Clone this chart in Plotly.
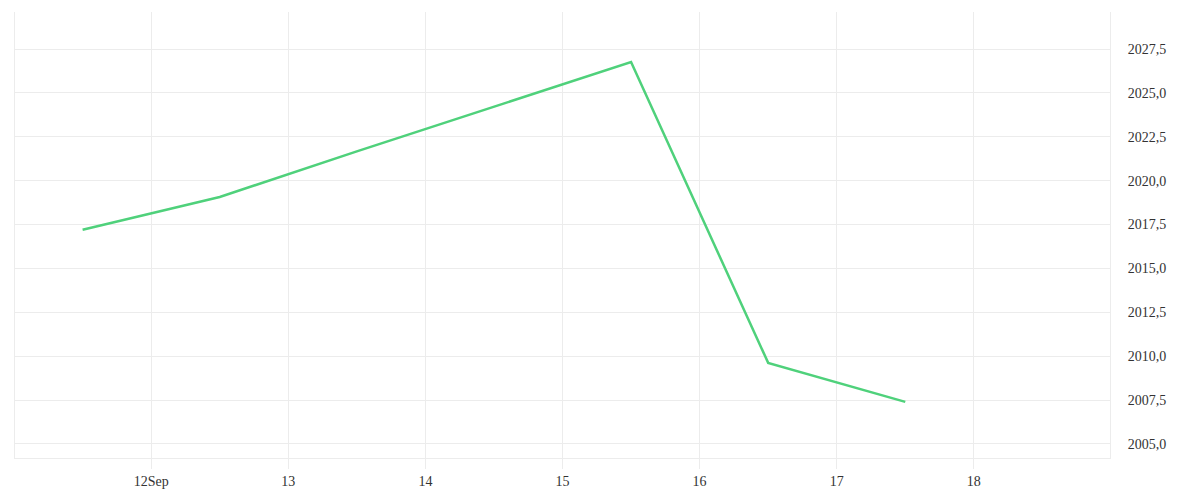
import plotly.graph_objects as go

dates = ["2023-09-11 12:00", "2023-09-12 12:00", "2023-09-13 12:00", "2023-09-14 12:00",
         "2023-09-15 12:00", "2023-09-16 12:00", "2023-09-17 12:00"]
values = [2017.2, 2019.07, 2021.67, 2024.22, 2026.76, 2009.62, 2007.4]
tick_dates = ["2023-09-12", "2023-09-13", "2023-09-14", "2023-09-15",
              "2023-09-16", "2023-09-17", "2023-09-18"]
tick_labels = ["12Sep", "13", "14", "15", "16", "17", "18"]

grid = "#ececec"
fig = go.Figure(go.Scatter(x=dates, y=values, mode="lines",
                           line=dict(color="#4fd17b", width=2.5)))
fig.update_layout(
    width=1200, height=500,
    margin=dict(l=7, r=98, t=4, b=50),
    paper_bgcolor="white", plot_bgcolor="white",
    separators=",.",
    showlegend=False,
    font=dict(family="Liberation Serif", size=14, color="#333"),
    xaxis=dict(range=["2023-09-11 00:10", "2023-09-18 23:50"],
               tickvals=tick_dates, ticktext=tick_labels,
               showgrid=True, gridcolor=grid, gridwidth=1,
               ticks="outside", ticklen=10, tickcolor=grid,
               showline=True, linecolor=grid, linewidth=1,
               zeroline=False),
    yaxis=dict(side="right", range=[2004.2, 2029.61], dtick=2.5, tick0=2005,
               tickformat=".1f", showgrid=True, gridcolor=grid, gridwidth=1,
               showline=True, linecolor=grid, mirror=True, zeroline=False,
               ticks="", ticklabelstandoff=14),
)
fig.write_html("out.html")
